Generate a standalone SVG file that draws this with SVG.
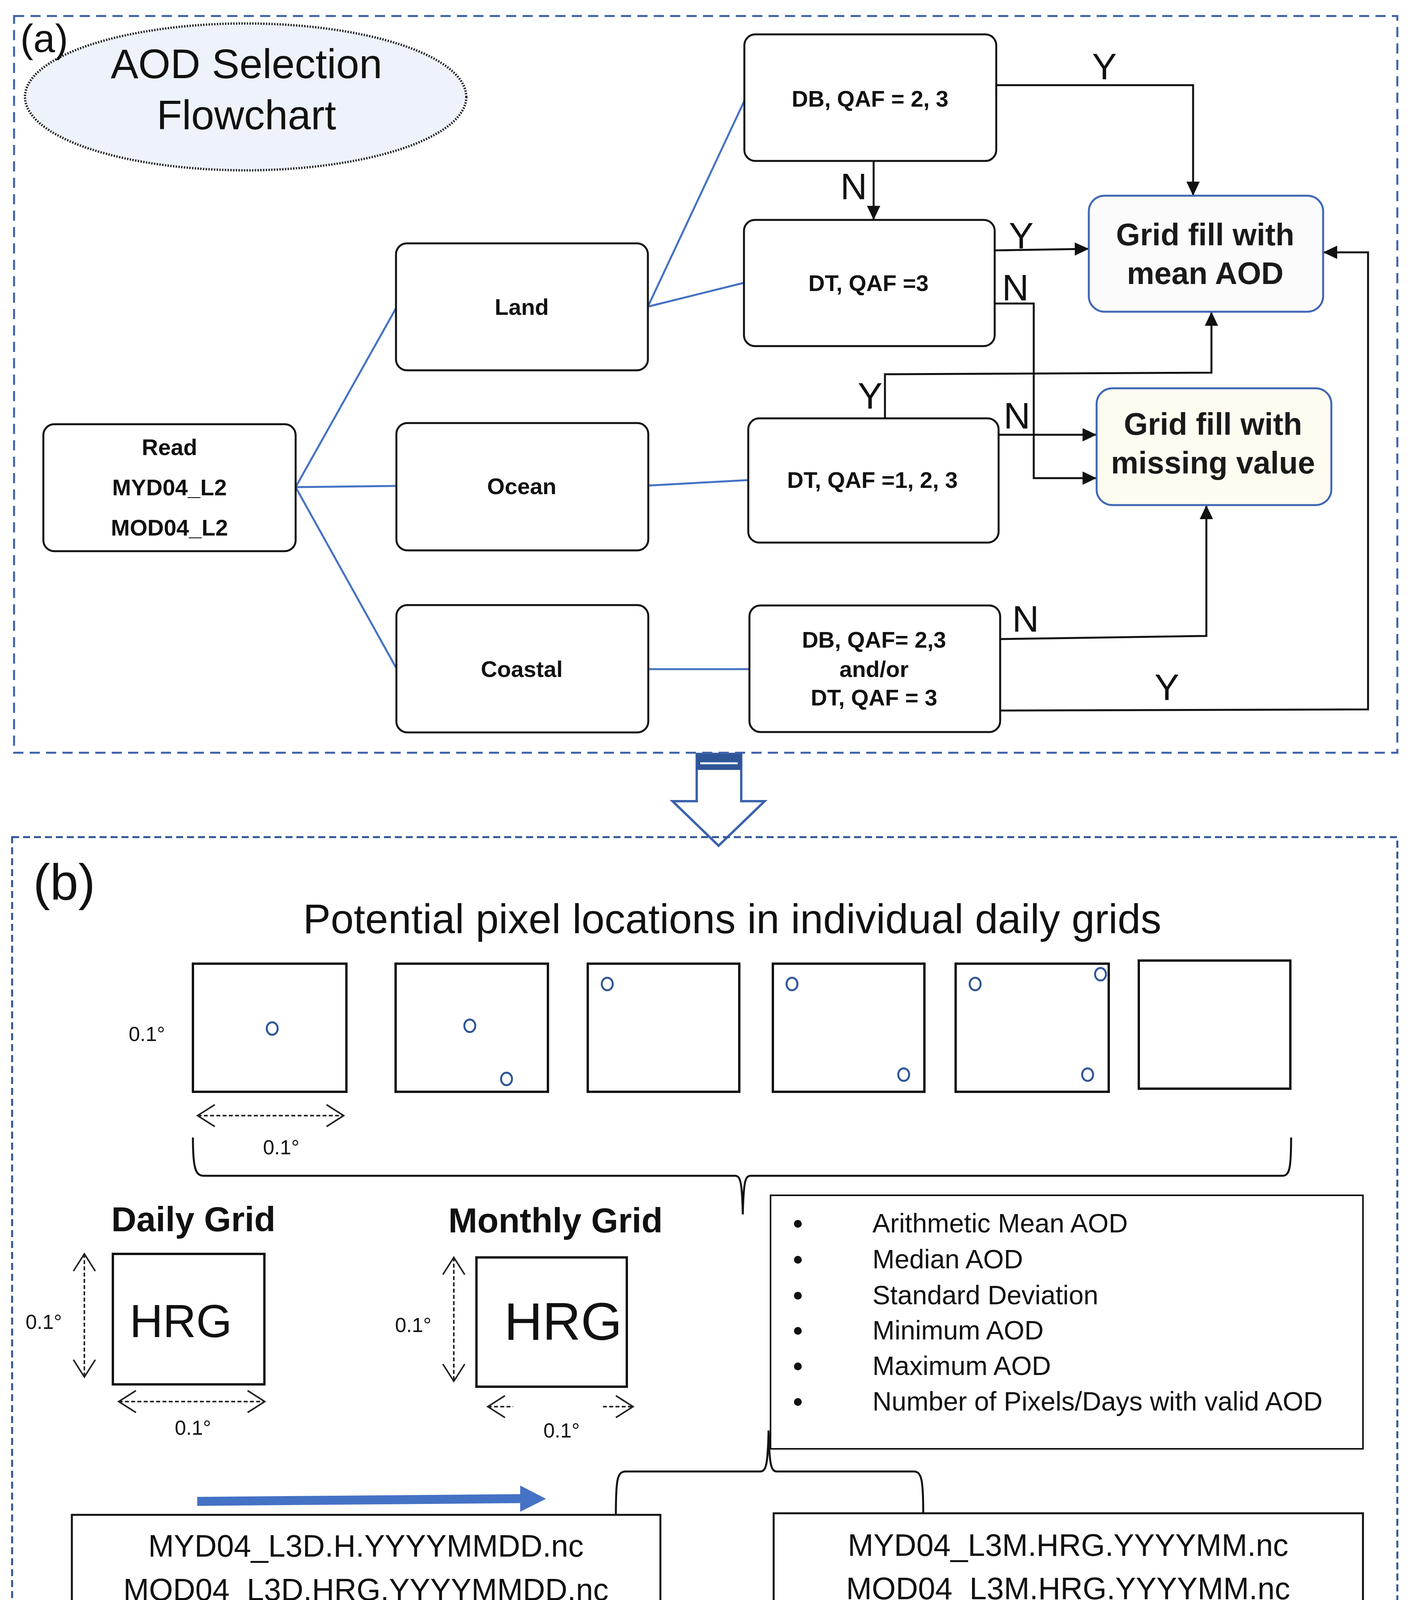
<svg xmlns="http://www.w3.org/2000/svg" width="3613" height="4285" viewBox="0 0 3613 4285">
<style>
.bg{fill:#ffffff}
.panelA{fill:none;stroke:#3A60AB;stroke-width:5;stroke-dasharray:26 16}
.panelB{fill:none;stroke:#2F5597;stroke-width:5;stroke-dasharray:18 10}
.node{fill:#ffffff;stroke:#111111;stroke-width:5}
.out1{fill:#FBFBFB;stroke:#3F67B5;stroke-width:5}
.out2{fill:#FEFBF0;stroke:#3F67B5;stroke-width:5}
.nt{font-family:"Liberation Sans",Arial,sans-serif;font-weight:bold;font-size:58px;fill:#111;text-anchor:middle}
.ot{font-family:"Liberation Sans",Arial,sans-serif;font-weight:bold;font-size:79px;fill:#1a1a1a;text-anchor:middle}
.lbl{font-family:"Liberation Sans",Arial,sans-serif;font-size:95px;fill:#111;text-anchor:middle}
.blue{fill:none;stroke:#4472C4;stroke-width:5}
.conn{fill:none;stroke:#111;stroke-width:5;marker-end:url(#ah)}
.sq{fill:#fff;stroke:#111;stroke-width:6}
.px{fill:none;stroke:#2F5597;stroke-width:5}
.deg{font-family:"Liberation Sans",Arial,sans-serif;font-size:52px;fill:#111;text-anchor:middle}
.dim{fill:none;stroke:#222;stroke-width:4;stroke-dasharray:10 6}
.stat{font-family:"Liberation Sans",Arial,sans-serif;font-size:68px;fill:#111}
.file{font-family:"Liberation Sans",Arial,sans-serif;font-size:79px;fill:#111;text-anchor:middle}
.brace{fill:none;stroke:#111;stroke-width:5}
</style>
<defs>
<marker id="ah" markerUnits="userSpaceOnUse" markerWidth="40" markerHeight="36" refX="36" refY="17" orient="auto">
<path d="M0,0 L36,17 L0,34 Z" fill="#111"/>
</marker>
<marker id="chev" markerUnits="userSpaceOnUse" markerWidth="52" markerHeight="62" refX="46" refY="30" orient="auto-start-reverse">
<path d="M2,2 L46,30 L2,58" fill="none" stroke="#222" stroke-width="4"/>
</marker>
</defs>
<rect class="bg" x="0" y="0" width="3613" height="4285"/>

<!-- Panel (a) -->
<rect class="panelA" x="36" y="41" width="3542" height="1886"/>
<g id="title-a">
<ellipse cx="629" cy="248" rx="565" ry="188" fill="#EEF2FB" stroke="#222" stroke-width="6" stroke-dasharray="3.5 3.5"/>
<text x="631" y="200" font-family="Liberation Sans, Arial, sans-serif" font-size="106" fill="#111" text-anchor="middle">AOD Selection</text>
<text x="631" y="331" font-family="Liberation Sans, Arial, sans-serif" font-size="106" fill="#111" text-anchor="middle">Flowchart</text>
<text x="52" y="133" font-family="Liberation Sans, Arial, sans-serif" font-size="100" fill="#111">(a)</text>
</g>

<g id="connectors-a">
<path class="blue" d="M757,1247 L1014,789"/>
<path class="blue" d="M757,1247 L1014,1244"/>
<path class="blue" d="M757,1247 L1014,1709"/>
<path class="blue" d="M1659,785 L1906,258"/>
<path class="blue" d="M1659,785 L1905,724"/>
<path class="blue" d="M1660,1243 L1916,1229"/>
<path class="blue" d="M1660,1713 L1919,1713"/>
<path class="conn" d="M2553,218 L3055,218 L3055,501"/>
<path class="conn" d="M2237,413 L2237,563"/>
<path class="conn" d="M2547,641 L2788,637"/>
<path class="conn" d="M2547,777 L2647,777 L2647,1224 L2808,1224"/>
<path class="conn" d="M2266,1071 L2266,958 L3102,954 L3102,798"/>
<path class="conn" d="M2557,1113 L2808,1113"/>
<path class="conn" d="M2561,1636 L3089,1628 L3089,1293"/>
<path class="conn" d="M2561,1819 L3503,1816 L3503,646 L3388,646"/>
<text class="lbl" x="2828" y="203">Y</text>
<text class="lbl" x="2186" y="510">N</text>
<text class="lbl" x="2615" y="636">Y</text>
<text class="lbl" x="2600" y="769">N</text>
<text class="lbl" x="2228" y="1046">Y</text>
<text class="lbl" x="2604" y="1097">N</text>
<text class="lbl" x="2626" y="1617">N</text>
<text class="lbl" x="2988" y="1792">Y</text>
</g>

<g id="node-read">
<rect class="node" x="111" y="1086" width="646" height="325" rx="28"/>
<text class="nt" x="434" y="1165" font-size="60">Read</text>
<text class="nt" x="434" y="1268" font-size="60">MYD04_L2</text>
<text class="nt" x="434" y="1371" font-size="60">MOD04_L2</text>
</g>
<g id="node-land">
<rect class="node" x="1014" y="623" width="645" height="325" rx="28"/>
<text class="nt" x="1336" y="806" font-size="60">Land</text>
</g>
<g id="node-ocean">
<rect class="node" x="1015" y="1083" width="645" height="326" rx="28"/>
<text class="nt" x="1336" y="1265" font-size="60">Ocean</text>
</g>
<g id="node-coastal">
<rect class="node" x="1015" y="1549" width="645" height="326" rx="28"/>
<text class="nt" x="1336" y="1733" font-size="60">Coastal</text>
</g>
<g id="node-db">
<rect class="node" x="1906" y="88" width="645" height="324" rx="28"/>
<text class="nt" x="2228" y="273" font-size="57">DB, QAF = 2, 3</text>
</g>
<g id="node-dt3">
<rect class="node" x="1905" y="563" width="642" height="323" rx="28"/>
<text class="nt" x="2224" y="745" font-size="57">DT, QAF =3</text>
</g>
<g id="node-dt123">
<rect class="node" x="1916" y="1071" width="641" height="318" rx="28"/>
<text class="nt" x="2234" y="1249" font-size="57">DT, QAF =1, 2, 3</text>
</g>
<g id="node-coastal-test">
<rect class="node" x="1919" y="1550" width="642" height="324" rx="28"/>
<text class="nt" x="2238" y="1658" font-size="57">DB, QAF= 2,3</text>
<text class="nt" x="2238" y="1733" font-size="57">and/or</text>
<text class="nt" x="2238" y="1806" font-size="57">DT, QAF = 3</text>
</g>
<g id="node-mean">
<rect class="out1" x="2788" y="501" width="600" height="297" rx="40"/>
<text class="ot" x="3086" y="628">Grid fill with</text>
<text class="ot" x="3086" y="727">mean AOD</text>
</g>
<g id="node-missing">
<rect class="out2" x="2808" y="994" width="601" height="299" rx="40"/>
<text class="ot" x="3106" y="1113">Grid fill with</text>
<text class="ot" x="3106" y="1212">missing value</text>
</g>

<!-- Block arrow between panels -->
<g id="down-arrow">
<polygon points="1784,1930 1898,1930 1898,2051 1958,2051 1840,2165 1722,2051 1784,2051" fill="#ffffff" stroke="#3B62AC" stroke-width="6"/>
<rect x="1784" y="1930" width="114" height="41" fill="#2F5597"/>
<line x1="1793" y1="1954" x2="1889" y2="1954" stroke="#ffffff" stroke-width="5"/>
</g>

<!-- Panel (b) -->
<rect class="panelB" x="31" y="2143" width="3547" height="2103"/>
<g id="title-b">
<text x="85" y="2303" font-family="Liberation Sans, Arial, sans-serif" font-size="130" fill="#111">(b)</text>
<text x="776" y="2389" font-family="Liberation Sans, Arial, sans-serif" font-size="106" fill="#111">Potential pixel locations in individual daily grids</text>
</g>

<g id="daily-grids">
<rect class="sq" x="494" y="2467" width="393" height="328"/>
<rect class="sq" x="1013" y="2467" width="390" height="328"/>
<rect class="sq" x="1505" y="2467" width="388" height="328"/>
<rect class="sq" x="1979" y="2467" width="388" height="328"/>
<rect class="sq" x="2447" y="2467" width="392" height="328"/>
<rect class="sq" x="2916" y="2459" width="388" height="328"/>
<ellipse class="px" cx="697" cy="2633" rx="14" ry="16"/>
<ellipse class="px" cx="1203" cy="2626" rx="14" ry="16"/>
<ellipse class="px" cx="1297" cy="2762" rx="14" ry="16"/>
<ellipse class="px" cx="1555" cy="2519" rx="14" ry="16"/>
<ellipse class="px" cx="2028" cy="2519" rx="14" ry="16"/>
<ellipse class="px" cx="2314" cy="2751" rx="14" ry="16"/>
<ellipse class="px" cx="2497" cy="2519" rx="14" ry="16"/>
<ellipse class="px" cx="2818" cy="2494" rx="14" ry="16"/>
<ellipse class="px" cx="2785" cy="2751" rx="14" ry="16"/>
<text class="deg" x="376" y="2665">0.1°</text>
<path class="dim" d="M506,2856 L880,2856" marker-start="url(#chev)" marker-end="url(#chev)"/>
<text class="deg" x="720" y="2955">0.1°</text>
</g>

<g id="brace-top">
<path class="brace" d="M494,2912 C494,2990 500,3010 522,3010 L1882,3010 C1896,3010 1900,3025 1902,3109 C1904,3025 1908,3010 1922,3010 L3284,3010 C3302,3010 3306,2990 3306,2912"/>
</g>

<g id="daily-grid">
<text x="285" y="3152" font-family="Liberation Sans, Arial, sans-serif" font-weight="bold" font-size="89" fill="#111">Daily Grid</text>
<rect class="sq" x="289" y="3210" width="388" height="334"/>
<text x="463" y="3423" font-family="Liberation Sans, Arial, sans-serif" font-size="118" fill="#111" text-anchor="middle">HRG</text>
<path class="dim" d="M216,3210 L216,3525" marker-start="url(#chev)" marker-end="url(#chev)"/>
<text class="deg" x="112" y="3402">0.1°</text>
<path class="dim" d="M304,3588 L678,3588" marker-start="url(#chev)" marker-end="url(#chev)"/>
<text class="deg" x="494" y="3673">0.1°</text>
</g>

<g id="monthly-grid">
<text x="1148" y="3155" font-family="Liberation Sans, Arial, sans-serif" font-weight="bold" font-size="89" fill="#111">Monthly Grid</text>
<rect class="sq" x="1220" y="3219" width="385" height="331"/>
<text x="1442" y="3430" font-family="Liberation Sans, Arial, sans-serif" font-size="136" fill="#111" text-anchor="middle">HRG</text>
<path class="dim" d="M1162,3219 L1162,3536" marker-start="url(#chev)" marker-end="url(#chev)"/>
<text class="deg" x="1058" y="3410">0.1°</text>
<path class="dim" d="M1249,3601 L1314,3601" marker-start="url(#chev)"/>
<path class="dim" d="M1544,3601 L1621,3601" marker-end="url(#chev)"/>
<text class="deg" x="1438" y="3680">0.1°</text>
</g>

<g id="stats-box">
<rect x="1973" y="3060" width="1517" height="649" fill="#fff" stroke="#111" stroke-width="4"/>
<circle cx="2043" cy="3133" r="10" fill="#111"/>
<circle cx="2043" cy="3225" r="10" fill="#111"/>
<circle cx="2043" cy="3317" r="10" fill="#111"/>
<circle cx="2043" cy="3407" r="10" fill="#111"/>
<circle cx="2043" cy="3498" r="10" fill="#111"/>
<circle cx="2043" cy="3589" r="10" fill="#111"/>
<text class="stat" x="2234" y="3155">Arithmetic Mean AOD</text>
<text class="stat" x="2234" y="3247">Median AOD</text>
<text class="stat" x="2234" y="3339">Standard Deviation</text>
<text class="stat" x="2234" y="3429">Minimum AOD</text>
<text class="stat" x="2234" y="3520">Maximum AOD</text>
<text class="stat" x="2234" y="3611">Number of Pixels/Days with valid AOD</text>
</g>

<g id="brace-bottom">
<path class="brace" d="M1577,3877 C1577,3790 1580,3767 1602,3767 L1946,3767 C1962,3767 1966,3750 1968,3662 C1970,3750 1974,3767 1990,3767 L2340,3767 C2360,3767 2364,3790 2364,3873"/>
</g>

<g id="blue-arrow">
<polygon points="505,3832 1332,3825 1332,3803 1398,3837 1332,3870 1332,3848 505,3855" fill="#4472C4"/>
</g>

<g id="daily-file">
<rect x="184" y="3878" width="1507" height="305" fill="#fff" stroke="#111" stroke-width="5"/>
<text class="file" x="937" y="3985">MYD04_L3D.H.YYYYMMDD.nc</text>
<text class="file" x="937" y="4097">MOD04_L3D.HRG.YYYYMMDD.nc</text>
</g>

<g id="monthly-file">
<rect x="1981" y="3874" width="1509" height="307" fill="#fff" stroke="#111" stroke-width="5"/>
<text class="file" x="2735" y="3983">MYD04_L3M.HRG.YYYYMM.nc</text>
<text class="file" x="2735" y="4094">MOD04_L3M.HRG.YYYYMM.nc</text>
</g>
</svg>
